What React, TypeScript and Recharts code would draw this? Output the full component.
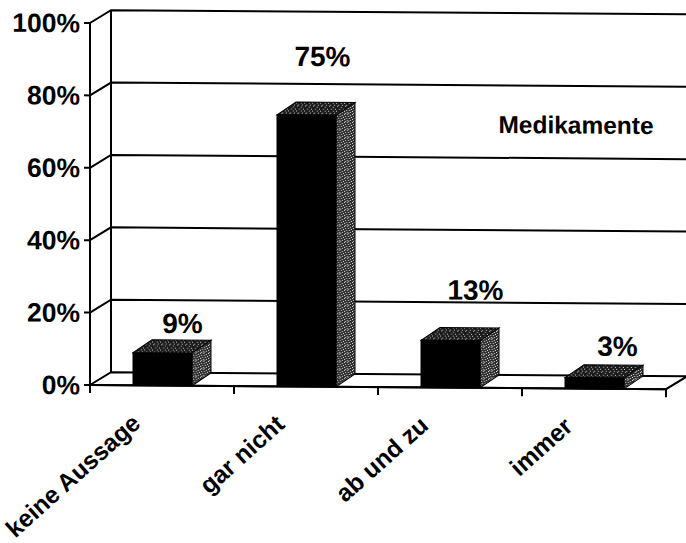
import { Bar, BarChart, CartesianGrid, LabelList, ReferenceArea, XAxis, YAxis } from 'recharts'

const categories = ['keine Aussage', 'gar nicht', 'ab und zu', 'immer']
const shares = [9, 75, 13, 3]
const yTicks = [0, 20, 40, 60, 80, 100]
// value labels were placed by hand above the bars
const labelLift = [7, 36, 28, 9]
const labelShift = [20, 16, 25, 23]

const rows = categories.map((name, i) => ({ name, share: shares[i] }))

const FONT = '"Liberation Sans", Arial, sans-serif'
const DEPTH_X = 21
const DEPTH_Y = 13
const BAR_DEPTH_X = 19
const BAND = 144
const PLOT_BOTTOM = 385
const LINE = 2

const sideDots = [
  [0, 0], [3, 0], [6, 1], [1, 2], [4, 2], [7, 3], [2, 4], [5, 4], [0, 5], [3, 6], [6, 6], [1, 7], [4, 7],
]
const topDots = [
  [1, 0], [5, 1], [3, 3], [7, 3], [0, 5], [5, 5], [2, 7], [6, 7],
]

function GridLine({ x1, y1, x2 }: any) {
  const isFloor = Math.abs(y1 - PLOT_BOTTOM) < 1
  const backY = y1 - DEPTH_Y
  return (
    <g fill="none" stroke="#000" strokeWidth={LINE}>
      <path d={`M${x1} ${y1}L${x1 + DEPTH_X} ${backY}L${x2 + DEPTH_X} ${backY}`} />
      {isFloor && <path d={`M${x1} ${y1}L${x2} ${y1}L${x2 + DEPTH_X} ${backY}`} />}
    </g>
  )
}

function BackWall({ x, y, height }: any) {
  return (
    <line
      x1={x + DEPTH_X}
      x2={x + DEPTH_X}
      y1={y - DEPTH_Y}
      y2={y + height - DEPTH_Y}
      stroke="#000"
      strokeWidth={LINE}
    />
  )
}

function Bar3D({ x, y, width, height }: any) {
  const right = x + width
  const bottom = y + height
  return (
    <g stroke="#000" strokeWidth={1}>
      <path
        d={`M${x} ${y}L${x + BAR_DEPTH_X} ${y - DEPTH_Y}L${right + BAR_DEPTH_X} ${y - DEPTH_Y}L${right} ${y}Z`}
        fill="url(#speckleTop)"
      />
      <path
        d={`M${right} ${y}L${right + BAR_DEPTH_X} ${y - DEPTH_Y}L${right + BAR_DEPTH_X} ${bottom - DEPTH_Y}L${right} ${bottom}Z`}
        fill="url(#speckleSide)"
      />
      <rect x={x} y={y} width={width} height={height} fill="#000" />
    </g>
  )
}

function ValueLabel({ x, y, width, value, index }: any) {
  return (
    <text
      x={x + width / 2 + labelShift[index]}
      y={y - DEPTH_Y - labelLift[index]}
      textAnchor="middle"
      fontFamily={FONT}
      fontWeight="bold"
      fontSize={28}
      fill="#000"
    >
      {value}%
    </text>
  )
}

function CategoryTick({ x, payload, index }: any) {
  const endX = x - 20
  const endY = 425
  const left = x - BAND / 2
  return (
    <g>
      <line x1={left} x2={left} y1={PLOT_BOTTOM} y2={PLOT_BOTTOM + 8} stroke="#000" strokeWidth={LINE} />
      {index === categories.length - 1 && (
        <line x1={left + BAND} x2={left + BAND} y1={PLOT_BOTTOM} y2={PLOT_BOTTOM + 8} stroke="#000" strokeWidth={LINE} />
      )}
      <text
        x={endX}
        y={endY}
        textAnchor="end"
        transform={`rotate(-42 ${endX} ${endY})`}
        fontFamily={FONT}
        fontWeight="bold"
        fontSize={24.5}
        fill="#000"
      >
        {payload.value}
      </text>
    </g>
  )
}

export default function App() {
  return (
    <div
      style={{
        position: 'absolute',
        left: 0,
        top: 0,
        width: 686,
        height: 543,
        overflow: 'hidden',
        background: '#fff',
      }}
    >
      <div style={{ transform: 'skewY(0.42deg)', transformOrigin: '90px 0' }}>
        <BarChart
          width={686}
          height={543}
          data={rows}
          margin={{ top: 23, right: 20, bottom: 0, left: 10 }}
          barSize={59}
          style={{ overflow: 'visible' }}
        >
          <defs>
            <pattern id="speckleSide" width={8} height={8} patternUnits="userSpaceOnUse">
              <rect width={8} height={8} fill="#2a2a2a" />
              {sideDots.map(([dx, dy]) => (
                <rect key={`${dx}-${dy}`} x={dx} y={dy} width={1} height={1} fill="#e8e8e8" />
              ))}
            </pattern>
            <pattern id="speckleTop" width={8} height={8} patternUnits="userSpaceOnUse">
              <rect width={8} height={8} fill="#1a1a1a" />
              {topDots.map(([dx, dy]) => (
                <rect key={`${dx}-${dy}`} x={dx} y={dy} width={1} height={1} fill="#d0d0d0" />
              ))}
            </pattern>
          </defs>
          <CartesianGrid vertical={false} horizontal={GridLine} />
          <XAxis
            dataKey="name"
            height={158}
            interval={0}
            tickLine={false}
            axisLine={{ stroke: '#000', strokeWidth: LINE }}
            tick={CategoryTick}
          />
          <YAxis
            width={80}
            domain={[0, 100]}
            ticks={yTicks}
            tickFormatter={(v: number) => `${v}%`}
            tickSize={6}
            tickMargin={4}
            axisLine={{ stroke: '#000', strokeWidth: LINE }}
            tickLine={{ stroke: '#000', strokeWidth: LINE }}
            tick={{ fill: '#000', fontFamily: FONT, fontWeight: 'bold', fontSize: 26.5 }}
          />
          <ReferenceArea y1={0} y2={100} shape={BackWall} />
          <Bar dataKey="share" shape={Bar3D} isAnimationActive={false}>
            <LabelList dataKey="share" content={ValueLabel} />
          </Bar>
          <text x={576} y={130} textAnchor="middle" fontFamily={FONT} fontWeight="bold" fontSize={24.5} fill="#000">
            Medikamente
          </text>
        </BarChart>
      </div>
    </div>
  )
}
